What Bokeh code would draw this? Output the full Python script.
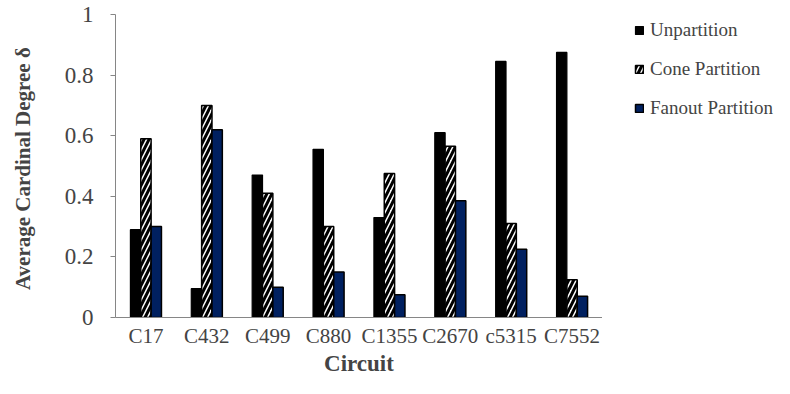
from bokeh.plotting import figure
from bokeh.layouts import row
from bokeh.models import (ColumnDataSource, FactorRange, FixedTicker, CustomJSTickFormatter,
                          Legend, LegendItem)
from bokeh.transform import dodge
from bokeh.embed import file_html
from bokeh.resources import INLINE

circuits = ["C17", "C432", "C499", "C880", "C1355", "C2670", "c5315", "C7552"]
unpartition = [0.29, 0.095, 0.47, 0.555, 0.33, 0.61, 0.845, 0.875]
cone_partition = [0.59, 0.70, 0.41, 0.30, 0.475, 0.565, 0.31, 0.125]
fanout_partition = [0.30, 0.62, 0.10, 0.15, 0.075, 0.385, 0.225, 0.07]
series_names = ["Unpartition", "Cone Partition", "Fanout Partition"]
y_ticks = [0, 0.2, 0.4, 0.6, 0.8, 1.0]

src = ColumnDataSource(dict(c=circuits, u=unpartition, cp=cone_partition, fp=fanout_partition))

FONT = "Liberation Serif"
H = 378
W_MAIN = 602
W_LEG = 172

STYLES = [
    dict(fill_color="black", line_color="black", line_width=1.2),
    dict(fill_color="white", line_color="black", line_width=1.5,
         hatch_pattern="/", hatch_color="black", hatch_scale=10, hatch_weight=3),
    dict(fill_color="#002060", line_color="black", line_width=1.5),
]
COLS = ["u", "cp", "fp"]
bw = 0.17
OFFS = [-bw, 0, bw]

p = figure(width=W_MAIN, height=H, x_range=FactorRange(*circuits), y_range=(0, 1),
           output_backend="svg", toolbar_location=None,
           min_border_left=115, min_border_right=0, min_border_top=14, min_border_bottom=58)
p.outline_line_color = None
p.grid.grid_line_color = None
p.background_fill_color = "white"

for off, col, st in zip(OFFS, COLS, STYLES):
    p.vbar(x=dodge("c", off, range=p.x_range), top=col, width=bw, bottom=0, source=src, **st)

# y axis
ya = p.yaxis[0]
ya.ticker = FixedTicker(ticks=y_ticks)
ya.formatter = CustomJSTickFormatter(code="return tick.toFixed(1).replace(/\\.0$/, '');")
ya.axis_line_color = "#868686"
ya.major_tick_line_color = "#868686"
ya.major_tick_out = 5
ya.major_tick_in = 0
ya.minor_tick_line_color = None
ya.major_label_text_font = FONT
ya.major_label_text_font_size = "23px"
ya.major_label_standoff = 17
ya.axis_label = "Average Cardinal Degree  \u03b4"
ya.axis_label_text_font = FONT
ya.axis_label_text_font_style = "bold"
ya.axis_label_text_font_size = "21px"
ya.axis_label_standoff = 27

# x axis
xa = p.xaxis[0]
xa.axis_line_color = "#868686"
xa.major_tick_line_color = None
xa.major_tick_out = 0
xa.major_tick_in = 0
xa.minor_tick_line_color = None
xa.major_label_text_font = FONT
xa.major_label_text_font_size = "21px"
xa.major_label_standoff = 6
xa.axis_label = "Circuit"
xa.axis_label_text_font = FONT
xa.axis_label_text_font_style = "bold"
xa.axis_label_text_font_size = "23px"
xa.axis_label_standoff = 0

# legend panel: companion figure without axes; its copies of the series are
# hidden, so only their legend swatches show
pl = figure(width=W_LEG, height=H, x_range=FactorRange(*circuits), y_range=(0, 1),
            x_axis_type=None, y_axis_type=None,
            output_backend="svg", toolbar_location=None,
            min_border_left=0, min_border_right=0, min_border_top=14, min_border_bottom=58)
pl.grid.grid_line_color = None
pl.outline_line_color = None
items = []
for name, off, col, st in zip(series_names, OFFS, COLS, STYLES):
    r = pl.vbar(x=dodge("c", off, range=pl.x_range), top=col, width=bw, bottom=0, source=src, **st)
    r.visible = False
    items.append(LegendItem(label=name, renderers=[r]))

legend = Legend(items=items, location=(32, 198))
legend.border_line_color = None
legend.background_fill_alpha = 0
legend.padding = 0
legend.margin = 0
legend.glyph_width = 10
legend.glyph_height = 10
legend.label_standoff = 6
legend.label_text_font = FONT
legend.label_text_font_size = "19px"
legend.spacing = 17
legend.click_policy = "none"
pl.add_layout(legend, "center")

layout = row(p, pl)
open("out.html", "w").write(file_html(layout, INLINE))
